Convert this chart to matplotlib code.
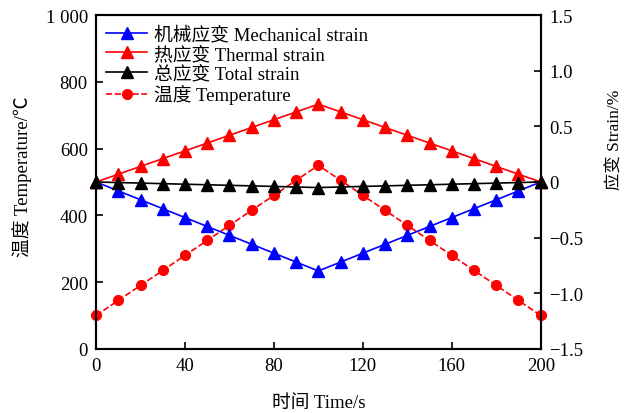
import matplotlib
matplotlib.use("Agg")
import matplotlib.pyplot as plt
from matplotlib.ticker import FuncFormatter

plt.rcParams['font.family'] = ['Liberation Serif', 'Noto Sans CJK SC']
plt.rcParams['font.size'] = 13.5
plt.rcParams['axes.unicode_minus'] = True

# time steps, s
time = [0, 10, 20, 30, 40, 50, 60, 70, 80, 90, 100,
        110, 120, 130, 140, 150, 160, 170, 180, 190, 200]

# temperature, °C
temperature = [100, 145, 190, 235, 280, 325, 370, 415, 460, 505, 550,
               505, 460, 415, 370, 325, 280, 235, 190, 145, 100]

# strains, %
mech_strain = [0, -0.08, -0.16, -0.24, -0.32, -0.40, -0.48, -0.56, -0.64, -0.72, -0.80,
               -0.72, -0.64, -0.56, -0.48, -0.40, -0.32, -0.24, -0.16, -0.08, 0]
thermal_strain = [0, 0.07, 0.14, 0.21, 0.28, 0.35, 0.42, 0.49, 0.56, 0.63, 0.70,
                  0.63, 0.56, 0.49, 0.42, 0.35, 0.28, 0.21, 0.14, 0.07, 0]
total_strain = [0, -0.005, -0.01, -0.015, -0.02, -0.025, -0.03, -0.035, -0.04, -0.045, -0.05,
                -0.045, -0.04, -0.035, -0.03, -0.025, -0.02, -0.015, -0.01, -0.005, 0]

fig = plt.figure(figsize=(6.28, 4.14), dpi=100)
ax1 = fig.add_axes([0.153, 0.155, 0.708, 0.806])
ax2 = ax1.twinx()

l_temp, = ax1.plot(time, temperature, '--', color='red', lw=1.2,
                   marker='o', ms=7, label='温度 Temperature', zorder=3)
l_mech, = ax2.plot(time, mech_strain, '-', color='blue', lw=1.2,
                   marker='^', ms=8.5, label='机械应变 Mechanical strain')
l_therm, = ax2.plot(time, thermal_strain, '-', color='red', lw=1.2,
                    marker='^', ms=8.5, label='热应变 Thermal strain')
l_total, = ax2.plot(time, total_strain, '-', color='black', lw=1.2,
                    marker='^', ms=8.5, label='总应变 Total strain')

for ln in (l_temp, l_mech, l_therm, l_total):
    ln.set_clip_on(False)

ax1.set_xlim(0, 200)
ax1.set_ylim(0, 1000)
ax2.set_ylim(-1.5, 1.5)
ax1.set_xticks([0, 40, 80, 120, 160, 200])
ax1.set_yticks([0, 200, 400, 600, 800, 1000])
ax2.set_yticks([-1.5, -1.0, -0.5, 0, 0.5, 1.0, 1.5])
ax1.yaxis.set_major_formatter(FuncFormatter(
    lambda v, p: '1 000' if v == 1000 else f'{v:.0f}'))
ax2.yaxis.set_major_formatter(FuncFormatter(
    lambda v, p: '0' if v == 0 else f'{v:.1f}'.replace('-', '\u2212')))

for ax in (ax1, ax2):
    ax.tick_params(direction='in', length=5, width=1.2, labelsize=13.5, pad=6)
    for sp in ax.spines.values():
        sp.set_linewidth(1.5)

ax1.set_xlabel('时间 Time/s', fontsize=13.5, labelpad=14)
ax1.set_ylabel('温度 Temperature/℃', fontsize=13.5, va='center')
ax1.yaxis.set_label_coords(-0.167, 0.52)
# right-hand label sits a bit above the middle, close to the edge
fig.text(616 / 628, 1 - 140 / 414, '应变 Strain/%', rotation=90,
         ha='center', va='center', fontsize=12.5)

ax1.legend(handles=[l_mech, l_therm, l_total, l_temp], loc='upper left',
           frameon=False, fontsize=13.5, handlelength=2.15, handletextpad=0.37,
           labelspacing=0.1, borderaxespad=0.15, bbox_to_anchor=(0.0, 1.0))

fig.savefig('out.png', dpi=100)
